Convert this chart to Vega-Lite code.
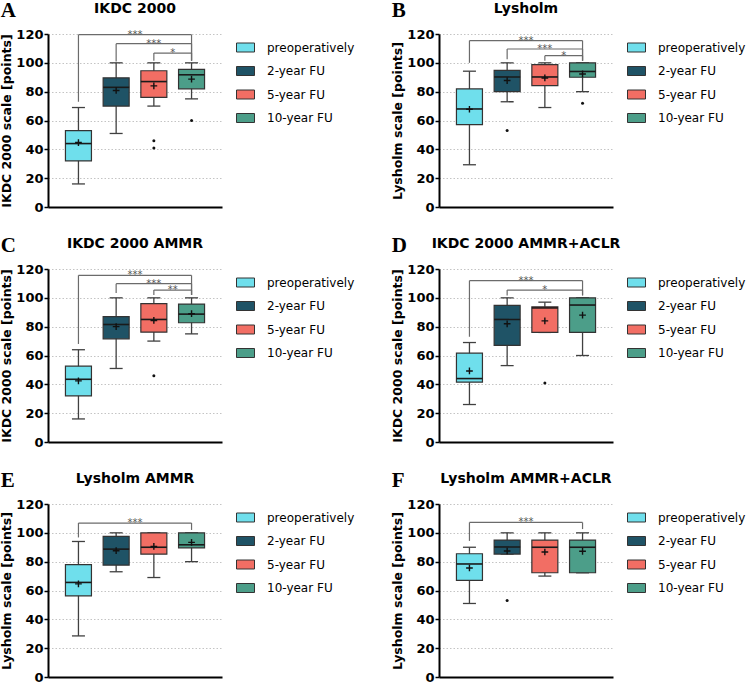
{
"$schema": "https://vega.github.io/schema/vega-lite/v6.json",
"padding": {"left": 0, "top": 0, "right": 0, "bottom": 0},
"background": "white",
"datasets": {
"boxes": [
{"panel":"A","group":"preoperatively","pos":1,"lo":16,"q1":32,"med":44,"q3":53,"hi":69,"mean":44.7},
{"panel":"A","group":"2-year FU","pos":2,"lo":51,"q1":70,"med":83,"q3":89.6,"hi":100,"mean":80.8},
{"panel":"A","group":"5-year FU","pos":3,"lo":70,"q1":76,"med":87,"q3":94.5,"hi":100,"mean":84},
{"panel":"A","group":"10-year FU","pos":4,"lo":75,"q1":82,"med":91.7,"q3":95.5,"hi":100,"mean":88.7},
{"panel":"B","group":"preoperatively","pos":1,"lo":29.3,"q1":57.2,"med":68,"q3":81.9,"hi":94.2,"mean":67.8},
{"panel":"B","group":"2-year FU","pos":2,"lo":73,"q1":80,"med":90.2,"q3":94.8,"hi":100,"mean":87.7},
{"panel":"B","group":"5-year FU","pos":3,"lo":69,"q1":84.2,"med":90.2,"q3":98.8,"hi":100,"mean":89.5},
{"panel":"B","group":"10-year FU","pos":4,"lo":80,"q1":90,"med":94,"q3":100,"hi":100,"mean":92.3},
{"panel":"C","group":"preoperatively","pos":1,"lo":16,"q1":32,"med":43.5,"q3":52.6,"hi":64,"mean":42.4},
{"panel":"C","group":"2-year FU","pos":2,"lo":51,"q1":71.6,"med":81.5,"q3":87,"hi":100,"mean":80},
{"panel":"C","group":"5-year FU","pos":3,"lo":70,"q1":76.2,"med":85,"q3":96,"hi":100,"mean":84.3},
{"panel":"C","group":"10-year FU","pos":4,"lo":75,"q1":82.7,"med":88.7,"q3":95.7,"hi":100,"mean":89},
{"panel":"D","group":"preoperatively","pos":1,"lo":26,"q1":41.5,"med":44,"q3":61.6,"hi":69,"mean":49.3},
{"panel":"D","group":"2-year FU","pos":2,"lo":53,"q1":67,"med":85,"q3":94.7,"hi":100,"mean":82},
{"panel":"D","group":"5-year FU","pos":3,"lo":76,"q1":76,"med":93,"q3":93.8,"hi":97,"mean":84},
{"panel":"D","group":"10-year FU","pos":4,"lo":60,"q1":76,"med":95,"q3":100,"hi":100,"mean":88},
{"panel":"E","group":"preoperatively","pos":1,"lo":28.5,"q1":56.3,"med":65.6,"q3":78,"hi":94,"mean":64.6},
{"panel":"E","group":"2-year FU","pos":2,"lo":73,"q1":77.6,"med":88.7,"q3":97.5,"hi":100,"mean":87.6},
{"panel":"E","group":"5-year FU","pos":3,"lo":69,"q1":85.2,"med":90,"q3":100,"hi":100,"mean":90.6},
{"panel":"E","group":"10-year FU","pos":4,"lo":80,"q1":89.6,"med":91.7,"q3":100,"hi":100,"mean":93.4},
{"panel":"F","group":"preoperatively","pos":1,"lo":51,"q1":67,"med":78.4,"q3":85.5,"hi":90,"mean":75.6},
{"panel":"F","group":"2-year FU","pos":2,"lo":85.3,"q1":85.3,"med":90.2,"q3":95,"hi":100,"mean":87.4},
{"panel":"F","group":"5-year FU","pos":3,"lo":70,"q1":72.3,"med":90,"q3":95,"hi":100,"mean":86.7},
{"panel":"F","group":"10-year FU","pos":4,"lo":72.3,"q1":72.3,"med":90,"q3":95,"hi":100,"mean":87.2}
],
"outliers": [
{"panel":"A","pos":3,"value":46},{"panel":"A","pos":3,"value":41},{"panel":"A","pos":4,"value":60},
{"panel":"B","pos":2,"value":53},{"panel":"B","pos":4,"value":72},
{"panel":"C","pos":3,"value":46},
{"panel":"D","pos":3,"value":41},
{"panel":"F","pos":2,"value":53}
],
"brackets": [
{"panel":"A","from":1,"to":4,"mid":2.5,"yb":119.5,"yl":73,"yr":101.5,"label":"***"},
{"panel":"A","from":2,"to":4,"mid":3,"yb":113.3,"yl":101,"yr":101.5,"label":"***"},
{"panel":"A","from":3,"to":4,"mid":3.5,"yb":106.8,"yl":101.5,"yr":101.5,"label":"*"},
{"panel":"B","from":1,"to":4,"mid":2.5,"yb":115.4,"yl":100,"yr":101.5,"label":"***"},
{"panel":"B","from":2,"to":4,"mid":3,"yb":109.6,"yl":102.5,"yr":101.5,"label":"***"},
{"panel":"B","from":3,"to":4,"mid":3.5,"yb":105,"yl":101.5,"yr":101.5,"label":"*"},
{"panel":"C","from":1,"to":4,"mid":2.5,"yb":115.6,"yl":68,"yr":102,"label":"***"},
{"panel":"C","from":2,"to":4,"mid":3,"yb":109.8,"yl":103.3,"yr":102,"label":"***"},
{"panel":"C","from":3,"to":4,"mid":3.5,"yb":105.4,"yl":102,"yr":102,"label":"**"},
{"panel":"D","from":1,"to":4,"mid":2.5,"yb":111.9,"yl":73,"yr":101.7,"label":"***"},
{"panel":"D","from":2,"to":4,"mid":3,"yb":105.4,"yl":101.7,"yr":101.7,"label":"*"},
{"panel":"E","from":1,"to":4,"mid":2.5,"yb":106.8,"yl":96.8,"yr":102,"label":"***"},
{"panel":"F","from":1,"to":4,"mid":2.5,"yb":107.2,"yl":94.4,"yr":102.6,"label":"***"}
]
},
"config": {
"view": {"stroke": null},
"font": "DejaVu Sans",
"title": {"font": "DejaVu Sans", "fontSize": 14, "fontWeight": "bold", "color": "#000", "anchor": "middle", "frame": "group", "offset": 12},
"axisY": {"values": [0,10,20,30,40,50,60,70,80,90,100,110,120], "labelExpr": "datum.value % 20 === 0 ? datum.label : ''", "labelFont": "DejaVu Sans", "labelFontWeight": "bold", "labelFontSize": 13, "labelColor": "#000", "labelPadding": 1, "titleFont": "DejaVu Sans", "titleFontSize": 12.5, "titleFontWeight": "bold", "titleColor": "#000", "titlePadding": 2, "domainColor": "#000", "domainWidth": 2, "tickColor": "#000", "tickWidth": 1.5, "tickSize": 4, "grid": true, "gridColor": "#c4c4c4", "gridDash": [1.5, 2], "gridWidth": 1},
"axisX": {"labels": false, "ticks": false, "grid": false, "domainColor": "#000", "domainWidth": 2},
"legend": {"orient": "right", "offset": 10, "padding": 4, "symbolType": "M-1,-0.5H1V0.5H-1Z", "symbolSize": 324, "symbolStrokeColor": "#333", "symbolStrokeWidth": 1, "symbolOpacity": 1, "labelFont": "DejaVu Sans", "labelFontSize": 12, "labelColor": "#000", "labelOffset": 12, "rowPadding": 7.5}
},
"spacing": 21,
"resolve": {"scale": {"fill": "independent"}, "legend": {"fill": "independent"}},
"vconcat": [
{"spacing": 32, "resolve": {"scale": {"fill": "independent"}, "legend": {"fill": "independent"}}, "hconcat": [
{"title": {"text": "A", "anchor": "start", "frame": "bounds", "font": "Liberation Serif", "fontSize": 21, "fontWeight": "bold", "color": "#000", "offset": 0, "dy": 19},
 "resolve": {"scale": {"fill": "independent"}, "legend": {"fill": "independent"}},
 "vconcat": [{"width": 174, "height": 173, "title": {"text": "IKDC 2000"},
 "layer": [
 {"data":{"name":"boxes"},"transform":[{"filter":"datum.panel==='A'"}],"mark":{"type":"rule","color":"#404040","strokeWidth":1.3},
  "encoding":{"x":{"field":"pos","type":"quantitative","scale":{"domain":[0.325,4.675],"nice":false,"zero":false},"title":null},"y":{"field":"lo","type":"quantitative","scale":{"domain":[0,120],"nice":false},"title":"IKDC 2000 scale [points]"},"y2":{"field":"hi"}}},
 {"data":{"name":"boxes"},"transform":[{"filter":"datum.panel==='A'"},{"fold":["lo","hi"],"as":["k","v"]}],"mark":{"type":"tick","orient":"horizontal","size":13,"thickness":1.3,"color":"#404040","opacity":1},
  "encoding":{"x":{"field":"pos","type":"quantitative"},"y":{"field":"v","type":"quantitative"}}},
 {"data":{"name":"boxes"},"transform":[{"filter":"datum.panel==='A'"}],"mark":{"type":"bar","size":26,"stroke":"#333","strokeWidth":1.2,"opacity":1},
  "encoding":{"x":{"field":"pos","type":"quantitative"},"y":{"field":"q1","type":"quantitative"},"y2":{"field":"q3"},"fill":{"field":"group","type":"nominal","scale":{"domain":["preoperatively","2-year FU","5-year FU","10-year FU"],"range":["#6FDFEC","#1F5366","#F26E64","#4C9E89"]},"legend":{"title":null}}}},
 {"data":{"name":"boxes"},"transform":[{"filter":"datum.panel==='A'"}],"mark":{"type":"tick","orient":"horizontal","size":26,"thickness":1.6,"color":"#1a1a1a","opacity":1},
  "encoding":{"x":{"field":"pos","type":"quantitative"},"y":{"field":"med","type":"quantitative"}}},
 {"data":{"name":"boxes"},"transform":[{"filter":"datum.panel==='A'"}],"mark":{"type":"point","shape":"M-1,0H1M0,-1V1","size":45,"filled":false,"color":"#111","strokeWidth":1.4,"opacity":1},
  "encoding":{"x":{"field":"pos","type":"quantitative"},"y":{"field":"mean","type":"quantitative"}}},
 {"data":{"name":"outliers"},"transform":[{"filter":"datum.panel==='A'"}],"mark":{"type":"circle","size":9,"color":"#111","opacity":1},
  "encoding":{"x":{"field":"pos","type":"quantitative"},"y":{"field":"value","type":"quantitative"}}},
 {"data":{"name":"brackets"},"transform":[{"filter":"datum.panel==='A'"}],"mark":{"type":"rule","color":"#6b6b6b","strokeWidth":1.2},
  "encoding":{"x":{"field":"from","type":"quantitative"},"x2":{"field":"to"},"y":{"field":"yb","type":"quantitative"}}},
 {"data":{"name":"brackets"},"transform":[{"filter":"datum.panel==='A'"}],"mark":{"type":"rule","color":"#6b6b6b","strokeWidth":1.2},
  "encoding":{"x":{"field":"from","type":"quantitative"},"y":{"field":"yl","type":"quantitative"},"y2":{"field":"yb"}}},
 {"data":{"name":"brackets"},"transform":[{"filter":"datum.panel==='A'"}],"mark":{"type":"rule","color":"#6b6b6b","strokeWidth":1.2},
  "encoding":{"x":{"field":"to","type":"quantitative"},"y":{"field":"yr","type":"quantitative"},"y2":{"field":"yb"}}},
 {"data":{"name":"brackets"},"transform":[{"filter":"datum.panel==='A'"}],"mark":{"type":"text","fontSize":10,"color":"#555","baseline":"alphabetic","dy":3},
  "encoding":{"x":{"field":"mid","type":"quantitative"},"y":{"field":"yb","type":"quantitative"},"text":{"field":"label"}}}
 ]}]},
{"title": {"text": "B", "anchor": "start", "frame": "bounds", "font": "Liberation Serif", "fontSize": 21, "fontWeight": "bold", "color": "#000", "offset": 0, "dy": 19},
 "resolve": {"scale": {"fill": "independent"}, "legend": {"fill": "independent"}},
 "vconcat": [{"width": 174, "height": 173, "title": {"text": "Lysholm"},
 "layer": [
 {"data":{"name":"boxes"},"transform":[{"filter":"datum.panel==='B'"}],"mark":{"type":"rule","color":"#404040","strokeWidth":1.3},
  "encoding":{"x":{"field":"pos","type":"quantitative","scale":{"domain":[0.325,4.675],"nice":false,"zero":false},"title":null},"y":{"field":"lo","type":"quantitative","scale":{"domain":[0,120],"nice":false},"title":"Lysholm scale [points]"},"y2":{"field":"hi"}}},
 {"data":{"name":"boxes"},"transform":[{"filter":"datum.panel==='B'"},{"fold":["lo","hi"],"as":["k","v"]}],"mark":{"type":"tick","orient":"horizontal","size":13,"thickness":1.3,"color":"#404040","opacity":1},
  "encoding":{"x":{"field":"pos","type":"quantitative"},"y":{"field":"v","type":"quantitative"}}},
 {"data":{"name":"boxes"},"transform":[{"filter":"datum.panel==='B'"}],"mark":{"type":"bar","size":26,"stroke":"#333","strokeWidth":1.2,"opacity":1},
  "encoding":{"x":{"field":"pos","type":"quantitative"},"y":{"field":"q1","type":"quantitative"},"y2":{"field":"q3"},"fill":{"field":"group","type":"nominal","scale":{"domain":["preoperatively","2-year FU","5-year FU","10-year FU"],"range":["#6FDFEC","#1F5366","#F26E64","#4C9E89"]},"legend":{"title":null}}}},
 {"data":{"name":"boxes"},"transform":[{"filter":"datum.panel==='B'"}],"mark":{"type":"tick","orient":"horizontal","size":26,"thickness":1.6,"color":"#1a1a1a","opacity":1},
  "encoding":{"x":{"field":"pos","type":"quantitative"},"y":{"field":"med","type":"quantitative"}}},
 {"data":{"name":"boxes"},"transform":[{"filter":"datum.panel==='B'"}],"mark":{"type":"point","shape":"M-1,0H1M0,-1V1","size":45,"filled":false,"color":"#111","strokeWidth":1.4,"opacity":1},
  "encoding":{"x":{"field":"pos","type":"quantitative"},"y":{"field":"mean","type":"quantitative"}}},
 {"data":{"name":"outliers"},"transform":[{"filter":"datum.panel==='B'"}],"mark":{"type":"circle","size":9,"color":"#111","opacity":1},
  "encoding":{"x":{"field":"pos","type":"quantitative"},"y":{"field":"value","type":"quantitative"}}},
 {"data":{"name":"brackets"},"transform":[{"filter":"datum.panel==='B'"}],"mark":{"type":"rule","color":"#6b6b6b","strokeWidth":1.2},
  "encoding":{"x":{"field":"from","type":"quantitative"},"x2":{"field":"to"},"y":{"field":"yb","type":"quantitative"}}},
 {"data":{"name":"brackets"},"transform":[{"filter":"datum.panel==='B'"}],"mark":{"type":"rule","color":"#6b6b6b","strokeWidth":1.2},
  "encoding":{"x":{"field":"from","type":"quantitative"},"y":{"field":"yl","type":"quantitative"},"y2":{"field":"yb"}}},
 {"data":{"name":"brackets"},"transform":[{"filter":"datum.panel==='B'"}],"mark":{"type":"rule","color":"#6b6b6b","strokeWidth":1.2},
  "encoding":{"x":{"field":"to","type":"quantitative"},"y":{"field":"yr","type":"quantitative"},"y2":{"field":"yb"}}},
 {"data":{"name":"brackets"},"transform":[{"filter":"datum.panel==='B'"}],"mark":{"type":"text","fontSize":10,"color":"#555","baseline":"alphabetic","dy":3},
  "encoding":{"x":{"field":"mid","type":"quantitative"},"y":{"field":"yb","type":"quantitative"},"text":{"field":"label"}}}
 ]}]}
]},
{"spacing": 32, "resolve": {"scale": {"fill": "independent"}, "legend": {"fill": "independent"}}, "hconcat": [
{"title": {"text": "C", "anchor": "start", "frame": "bounds", "font": "Liberation Serif", "fontSize": 21, "fontWeight": "bold", "color": "#000", "offset": 0, "dy": 19},
 "resolve": {"scale": {"fill": "independent"}, "legend": {"fill": "independent"}},
 "vconcat": [{"width": 174, "height": 173, "title": {"text": "IKDC 2000 AMMR"},
 "layer": [
 {"data":{"name":"boxes"},"transform":[{"filter":"datum.panel==='C'"}],"mark":{"type":"rule","color":"#404040","strokeWidth":1.3},
  "encoding":{"x":{"field":"pos","type":"quantitative","scale":{"domain":[0.325,4.675],"nice":false,"zero":false},"title":null},"y":{"field":"lo","type":"quantitative","scale":{"domain":[0,120],"nice":false},"title":"IKDC 2000 scale [points]"},"y2":{"field":"hi"}}},
 {"data":{"name":"boxes"},"transform":[{"filter":"datum.panel==='C'"},{"fold":["lo","hi"],"as":["k","v"]}],"mark":{"type":"tick","orient":"horizontal","size":13,"thickness":1.3,"color":"#404040","opacity":1},
  "encoding":{"x":{"field":"pos","type":"quantitative"},"y":{"field":"v","type":"quantitative"}}},
 {"data":{"name":"boxes"},"transform":[{"filter":"datum.panel==='C'"}],"mark":{"type":"bar","size":26,"stroke":"#333","strokeWidth":1.2,"opacity":1},
  "encoding":{"x":{"field":"pos","type":"quantitative"},"y":{"field":"q1","type":"quantitative"},"y2":{"field":"q3"},"fill":{"field":"group","type":"nominal","scale":{"domain":["preoperatively","2-year FU","5-year FU","10-year FU"],"range":["#6FDFEC","#1F5366","#F26E64","#4C9E89"]},"legend":{"title":null}}}},
 {"data":{"name":"boxes"},"transform":[{"filter":"datum.panel==='C'"}],"mark":{"type":"tick","orient":"horizontal","size":26,"thickness":1.6,"color":"#1a1a1a","opacity":1},
  "encoding":{"x":{"field":"pos","type":"quantitative"},"y":{"field":"med","type":"quantitative"}}},
 {"data":{"name":"boxes"},"transform":[{"filter":"datum.panel==='C'"}],"mark":{"type":"point","shape":"M-1,0H1M0,-1V1","size":45,"filled":false,"color":"#111","strokeWidth":1.4,"opacity":1},
  "encoding":{"x":{"field":"pos","type":"quantitative"},"y":{"field":"mean","type":"quantitative"}}},
 {"data":{"name":"outliers"},"transform":[{"filter":"datum.panel==='C'"}],"mark":{"type":"circle","size":9,"color":"#111","opacity":1},
  "encoding":{"x":{"field":"pos","type":"quantitative"},"y":{"field":"value","type":"quantitative"}}},
 {"data":{"name":"brackets"},"transform":[{"filter":"datum.panel==='C'"}],"mark":{"type":"rule","color":"#6b6b6b","strokeWidth":1.2},
  "encoding":{"x":{"field":"from","type":"quantitative"},"x2":{"field":"to"},"y":{"field":"yb","type":"quantitative"}}},
 {"data":{"name":"brackets"},"transform":[{"filter":"datum.panel==='C'"}],"mark":{"type":"rule","color":"#6b6b6b","strokeWidth":1.2},
  "encoding":{"x":{"field":"from","type":"quantitative"},"y":{"field":"yl","type":"quantitative"},"y2":{"field":"yb"}}},
 {"data":{"name":"brackets"},"transform":[{"filter":"datum.panel==='C'"}],"mark":{"type":"rule","color":"#6b6b6b","strokeWidth":1.2},
  "encoding":{"x":{"field":"to","type":"quantitative"},"y":{"field":"yr","type":"quantitative"},"y2":{"field":"yb"}}},
 {"data":{"name":"brackets"},"transform":[{"filter":"datum.panel==='C'"}],"mark":{"type":"text","fontSize":10,"color":"#555","baseline":"alphabetic","dy":3},
  "encoding":{"x":{"field":"mid","type":"quantitative"},"y":{"field":"yb","type":"quantitative"},"text":{"field":"label"}}}
 ]}]},
{"title": {"text": "D", "anchor": "start", "frame": "bounds", "font": "Liberation Serif", "fontSize": 21, "fontWeight": "bold", "color": "#000", "offset": 0, "dy": 19},
 "resolve": {"scale": {"fill": "independent"}, "legend": {"fill": "independent"}},
 "vconcat": [{"width": 174, "height": 173, "title": {"text": "IKDC 2000 AMMR+ACLR"},
 "layer": [
 {"data":{"name":"boxes"},"transform":[{"filter":"datum.panel==='D'"}],"mark":{"type":"rule","color":"#404040","strokeWidth":1.3},
  "encoding":{"x":{"field":"pos","type":"quantitative","scale":{"domain":[0.325,4.675],"nice":false,"zero":false},"title":null},"y":{"field":"lo","type":"quantitative","scale":{"domain":[0,120],"nice":false},"title":"IKDC 2000 scale [points]"},"y2":{"field":"hi"}}},
 {"data":{"name":"boxes"},"transform":[{"filter":"datum.panel==='D'"},{"fold":["lo","hi"],"as":["k","v"]}],"mark":{"type":"tick","orient":"horizontal","size":13,"thickness":1.3,"color":"#404040","opacity":1},
  "encoding":{"x":{"field":"pos","type":"quantitative"},"y":{"field":"v","type":"quantitative"}}},
 {"data":{"name":"boxes"},"transform":[{"filter":"datum.panel==='D'"}],"mark":{"type":"bar","size":26,"stroke":"#333","strokeWidth":1.2,"opacity":1},
  "encoding":{"x":{"field":"pos","type":"quantitative"},"y":{"field":"q1","type":"quantitative"},"y2":{"field":"q3"},"fill":{"field":"group","type":"nominal","scale":{"domain":["preoperatively","2-year FU","5-year FU","10-year FU"],"range":["#6FDFEC","#1F5366","#F26E64","#4C9E89"]},"legend":{"title":null}}}},
 {"data":{"name":"boxes"},"transform":[{"filter":"datum.panel==='D'"}],"mark":{"type":"tick","orient":"horizontal","size":26,"thickness":1.6,"color":"#1a1a1a","opacity":1},
  "encoding":{"x":{"field":"pos","type":"quantitative"},"y":{"field":"med","type":"quantitative"}}},
 {"data":{"name":"boxes"},"transform":[{"filter":"datum.panel==='D'"}],"mark":{"type":"point","shape":"M-1,0H1M0,-1V1","size":45,"filled":false,"color":"#111","strokeWidth":1.4,"opacity":1},
  "encoding":{"x":{"field":"pos","type":"quantitative"},"y":{"field":"mean","type":"quantitative"}}},
 {"data":{"name":"outliers"},"transform":[{"filter":"datum.panel==='D'"}],"mark":{"type":"circle","size":9,"color":"#111","opacity":1},
  "encoding":{"x":{"field":"pos","type":"quantitative"},"y":{"field":"value","type":"quantitative"}}},
 {"data":{"name":"brackets"},"transform":[{"filter":"datum.panel==='D'"}],"mark":{"type":"rule","color":"#6b6b6b","strokeWidth":1.2},
  "encoding":{"x":{"field":"from","type":"quantitative"},"x2":{"field":"to"},"y":{"field":"yb","type":"quantitative"}}},
 {"data":{"name":"brackets"},"transform":[{"filter":"datum.panel==='D'"}],"mark":{"type":"rule","color":"#6b6b6b","strokeWidth":1.2},
  "encoding":{"x":{"field":"from","type":"quantitative"},"y":{"field":"yl","type":"quantitative"},"y2":{"field":"yb"}}},
 {"data":{"name":"brackets"},"transform":[{"filter":"datum.panel==='D'"}],"mark":{"type":"rule","color":"#6b6b6b","strokeWidth":1.2},
  "encoding":{"x":{"field":"to","type":"quantitative"},"y":{"field":"yr","type":"quantitative"},"y2":{"field":"yb"}}},
 {"data":{"name":"brackets"},"transform":[{"filter":"datum.panel==='D'"}],"mark":{"type":"text","fontSize":10,"color":"#555","baseline":"alphabetic","dy":3},
  "encoding":{"x":{"field":"mid","type":"quantitative"},"y":{"field":"yb","type":"quantitative"},"text":{"field":"label"}}}
 ]}]}
]},
{"spacing": 32, "resolve": {"scale": {"fill": "independent"}, "legend": {"fill": "independent"}}, "hconcat": [
{"title": {"text": "E", "anchor": "start", "frame": "bounds", "font": "Liberation Serif", "fontSize": 21, "fontWeight": "bold", "color": "#000", "offset": 0, "dy": 19},
 "resolve": {"scale": {"fill": "independent"}, "legend": {"fill": "independent"}},
 "vconcat": [{"width": 174, "height": 173, "title": {"text": "Lysholm AMMR"},
 "layer": [
 {"data":{"name":"boxes"},"transform":[{"filter":"datum.panel==='E'"}],"mark":{"type":"rule","color":"#404040","strokeWidth":1.3},
  "encoding":{"x":{"field":"pos","type":"quantitative","scale":{"domain":[0.325,4.675],"nice":false,"zero":false},"title":null},"y":{"field":"lo","type":"quantitative","scale":{"domain":[0,120],"nice":false},"title":"Lysholm scale [points]"},"y2":{"field":"hi"}}},
 {"data":{"name":"boxes"},"transform":[{"filter":"datum.panel==='E'"},{"fold":["lo","hi"],"as":["k","v"]}],"mark":{"type":"tick","orient":"horizontal","size":13,"thickness":1.3,"color":"#404040","opacity":1},
  "encoding":{"x":{"field":"pos","type":"quantitative"},"y":{"field":"v","type":"quantitative"}}},
 {"data":{"name":"boxes"},"transform":[{"filter":"datum.panel==='E'"}],"mark":{"type":"bar","size":26,"stroke":"#333","strokeWidth":1.2,"opacity":1},
  "encoding":{"x":{"field":"pos","type":"quantitative"},"y":{"field":"q1","type":"quantitative"},"y2":{"field":"q3"},"fill":{"field":"group","type":"nominal","scale":{"domain":["preoperatively","2-year FU","5-year FU","10-year FU"],"range":["#6FDFEC","#1F5366","#F26E64","#4C9E89"]},"legend":{"title":null}}}},
 {"data":{"name":"boxes"},"transform":[{"filter":"datum.panel==='E'"}],"mark":{"type":"tick","orient":"horizontal","size":26,"thickness":1.6,"color":"#1a1a1a","opacity":1},
  "encoding":{"x":{"field":"pos","type":"quantitative"},"y":{"field":"med","type":"quantitative"}}},
 {"data":{"name":"boxes"},"transform":[{"filter":"datum.panel==='E'"}],"mark":{"type":"point","shape":"M-1,0H1M0,-1V1","size":45,"filled":false,"color":"#111","strokeWidth":1.4,"opacity":1},
  "encoding":{"x":{"field":"pos","type":"quantitative"},"y":{"field":"mean","type":"quantitative"}}},
 {"data":{"name":"outliers"},"transform":[{"filter":"datum.panel==='E'"}],"mark":{"type":"circle","size":9,"color":"#111","opacity":1},
  "encoding":{"x":{"field":"pos","type":"quantitative"},"y":{"field":"value","type":"quantitative"}}},
 {"data":{"name":"brackets"},"transform":[{"filter":"datum.panel==='E'"}],"mark":{"type":"rule","color":"#6b6b6b","strokeWidth":1.2},
  "encoding":{"x":{"field":"from","type":"quantitative"},"x2":{"field":"to"},"y":{"field":"yb","type":"quantitative"}}},
 {"data":{"name":"brackets"},"transform":[{"filter":"datum.panel==='E'"}],"mark":{"type":"rule","color":"#6b6b6b","strokeWidth":1.2},
  "encoding":{"x":{"field":"from","type":"quantitative"},"y":{"field":"yl","type":"quantitative"},"y2":{"field":"yb"}}},
 {"data":{"name":"brackets"},"transform":[{"filter":"datum.panel==='E'"}],"mark":{"type":"rule","color":"#6b6b6b","strokeWidth":1.2},
  "encoding":{"x":{"field":"to","type":"quantitative"},"y":{"field":"yr","type":"quantitative"},"y2":{"field":"yb"}}},
 {"data":{"name":"brackets"},"transform":[{"filter":"datum.panel==='E'"}],"mark":{"type":"text","fontSize":10,"color":"#555","baseline":"alphabetic","dy":3},
  "encoding":{"x":{"field":"mid","type":"quantitative"},"y":{"field":"yb","type":"quantitative"},"text":{"field":"label"}}}
 ]}]},
{"title": {"text": "F", "anchor": "start", "frame": "bounds", "font": "Liberation Serif", "fontSize": 21, "fontWeight": "bold", "color": "#000", "offset": 0, "dy": 19},
 "resolve": {"scale": {"fill": "independent"}, "legend": {"fill": "independent"}},
 "vconcat": [{"width": 174, "height": 173, "title": {"text": "Lysholm AMMR+ACLR"},
 "layer": [
 {"data":{"name":"boxes"},"transform":[{"filter":"datum.panel==='F'"}],"mark":{"type":"rule","color":"#404040","strokeWidth":1.3},
  "encoding":{"x":{"field":"pos","type":"quantitative","scale":{"domain":[0.325,4.675],"nice":false,"zero":false},"title":null},"y":{"field":"lo","type":"quantitative","scale":{"domain":[0,120],"nice":false},"title":"Lysholm scale [points]"},"y2":{"field":"hi"}}},
 {"data":{"name":"boxes"},"transform":[{"filter":"datum.panel==='F'"},{"fold":["lo","hi"],"as":["k","v"]}],"mark":{"type":"tick","orient":"horizontal","size":13,"thickness":1.3,"color":"#404040","opacity":1},
  "encoding":{"x":{"field":"pos","type":"quantitative"},"y":{"field":"v","type":"quantitative"}}},
 {"data":{"name":"boxes"},"transform":[{"filter":"datum.panel==='F'"}],"mark":{"type":"bar","size":26,"stroke":"#333","strokeWidth":1.2,"opacity":1},
  "encoding":{"x":{"field":"pos","type":"quantitative"},"y":{"field":"q1","type":"quantitative"},"y2":{"field":"q3"},"fill":{"field":"group","type":"nominal","scale":{"domain":["preoperatively","2-year FU","5-year FU","10-year FU"],"range":["#6FDFEC","#1F5366","#F26E64","#4C9E89"]},"legend":{"title":null}}}},
 {"data":{"name":"boxes"},"transform":[{"filter":"datum.panel==='F'"}],"mark":{"type":"tick","orient":"horizontal","size":26,"thickness":1.6,"color":"#1a1a1a","opacity":1},
  "encoding":{"x":{"field":"pos","type":"quantitative"},"y":{"field":"med","type":"quantitative"}}},
 {"data":{"name":"boxes"},"transform":[{"filter":"datum.panel==='F'"}],"mark":{"type":"point","shape":"M-1,0H1M0,-1V1","size":45,"filled":false,"color":"#111","strokeWidth":1.4,"opacity":1},
  "encoding":{"x":{"field":"pos","type":"quantitative"},"y":{"field":"mean","type":"quantitative"}}},
 {"data":{"name":"outliers"},"transform":[{"filter":"datum.panel==='F'"}],"mark":{"type":"circle","size":9,"color":"#111","opacity":1},
  "encoding":{"x":{"field":"pos","type":"quantitative"},"y":{"field":"value","type":"quantitative"}}},
 {"data":{"name":"brackets"},"transform":[{"filter":"datum.panel==='F'"}],"mark":{"type":"rule","color":"#6b6b6b","strokeWidth":1.2},
  "encoding":{"x":{"field":"from","type":"quantitative"},"x2":{"field":"to"},"y":{"field":"yb","type":"quantitative"}}},
 {"data":{"name":"brackets"},"transform":[{"filter":"datum.panel==='F'"}],"mark":{"type":"rule","color":"#6b6b6b","strokeWidth":1.2},
  "encoding":{"x":{"field":"from","type":"quantitative"},"y":{"field":"yl","type":"quantitative"},"y2":{"field":"yb"}}},
 {"data":{"name":"brackets"},"transform":[{"filter":"datum.panel==='F'"}],"mark":{"type":"rule","color":"#6b6b6b","strokeWidth":1.2},
  "encoding":{"x":{"field":"to","type":"quantitative"},"y":{"field":"yr","type":"quantitative"},"y2":{"field":"yb"}}},
 {"data":{"name":"brackets"},"transform":[{"filter":"datum.panel==='F'"}],"mark":{"type":"text","fontSize":10,"color":"#555","baseline":"alphabetic","dy":3},
  "encoding":{"x":{"field":"mid","type":"quantitative"},"y":{"field":"yb","type":"quantitative"},"text":{"field":"label"}}}
 ]}]}
]}
]
}
